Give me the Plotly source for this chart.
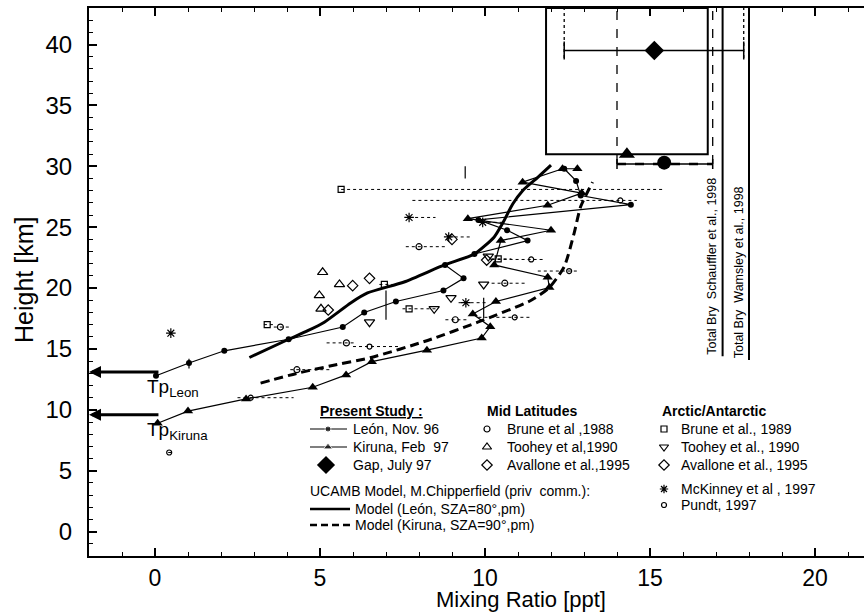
import plotly.graph_objects as go

# ------------------------------------------------------------------ data
# Present study (balloon profiles)
leon_x = [0.03, 1.03, 2.1, 4.05, 5.69, 6.34, 7.3, 8.74, 9.35, 8.79, 9.68, 11.29, 10.67, 9.8, 14.42, 12.9, 12.76, 12.4]
leon_y = [12.8, 13.85, 14.85, 15.8, 16.8, 18.0, 18.9, 19.8, 20.8, 21.9, 22.8, 23.9, 24.75, 25.6, 26.85, 27.6, 28.8, 29.8]
kiruna_x = [0.08, 1.0, 2.76, 4.78, 5.79, 6.57, 8.24, 9.9, 10.16, 9.63, 10.33, 11.95, 11.9, 10.28, 10.48, 12.0, 9.48, 11.9, 12.93, 11.14, 12.35, 12.8]
kiruna_y = [8.9, 9.9, 10.9, 11.86, 12.87, 13.96, 14.9, 15.9, 16.83, 17.87, 18.9, 20.05, 20.9, 21.9, 23.9, 24.75, 25.7, 26.8, 27.8, 28.7, 29.8, 29.8]

# UCAMB model profiles
model_leon_x = [2.86, 4.05, 4.63, 5.13, 5.94, 6.44, 7.55, 8.77, 9.68, 10.28, 10.53, 10.84, 11.14, 11.6, 12.0]
model_leon_y = [14.3, 15.8, 16.5, 17.2, 18.8, 19.6, 20.5, 21.9, 22.8, 24.2, 25.3, 26.9, 28.0, 29.1, 30.1]
model_kiruna_x = [3.2, 4.3, 5.3, 6.55, 8.26, 9.78, 11.4, 11.95, 12.4, 12.7, 12.9, 13.26]
model_kiruna_y = [12.2, 13.0, 13.6, 14.3, 15.7, 17.2, 19.0, 20.05, 21.75, 24.5, 26.7, 28.7]

# Gap, July 97 (total Bry) with its range
gap_x = [15.13]
gap_y = [39.5]
gap_xlo = [12.4]
gap_xhi = [17.84]

# top-of-profile values (León / Kiruna) with common range
top_leon_x = [15.43]
top_leon_y = [30.3]
top_kiruna_x = [14.3]
top_kiruna_y = [31.0]
top_range_lo = [14.0]
top_range_hi = [16.9]
top_range_y = [30.2]
box_x = [11.85, 16.75]
box_y_bottom = [31.0]

# total Bry literature values
bry_x = [17.2, 18.0]
bry_y_bottom = [14.4, 14.1]
bry_labels = ["Total Bry  Schauffler et al., 1998", "Total Bry  Wamsley et al., 1998"]

# tropopause heights
tp_names = ["Leon", "Kiruna"]
tp_heights = [13.1, 9.6]

# literature: mid latitudes
brune88_x = [3.8, 5.8, 8.0, 9.1, 10.6, 4.3]
brune88_y = [16.8, 15.5, 23.4, 17.4, 20.4, 13.3]
brune88_lo = [3.6, 5.2, 7.6, 8.8, 10.2, 4.1]
brune88_hi = [4.1, 6.1, 8.8, 9.5, 11.2, 5.3]
toohey90m_x = [5.08, 5.59, 4.98, 5.03]
toohey90m_y = [21.3, 20.3, 19.4, 18.3]
avallone95m_x = [5.99, 5.25, 6.5]
avallone95m_y = [20.2, 18.2, 20.8]

# literature: arctic / antarctic
brune89_x = [3.4, 6.95, 7.7, 5.64, 10.4]
brune89_y = [17.0, 20.3, 18.3, 28.1, 22.4]
brune89_lo = [3.3, 6.8, 7.5, 5.64, 10.2]
brune89_hi = [3.6, 7.2, 8.5, 15.4, 10.8]
toohey90a_x = [6.5, 8.46, 8.97, 9.96, 10.1]
toohey90a_y = [17.2, 18.3, 19.2, 20.3, 22.6]
avallone95a_x = [10.05, 9.0]
avallone95a_y = [22.3, 24.0]
mckinney97_x = [0.48, 7.7, 8.9, 9.42, 9.93]
mckinney97_y = [16.3, 25.8, 24.2, 18.8, 25.4]
mckinney97_lo = [0.48, 7.7, 8.9, 9.2, 9.9]
mckinney97_hi = [0.48, 8.5, 9.6, 10.1, 10.6]
pundt97_x = [11.4, 12.55, 14.1, 0.43, 6.5, 2.9, 10.9]
pundt97_y = [22.35, 21.4, 27.2, 6.5, 15.2, 11.0, 17.6]
pundt97_lo = [10.2, 11.6, 7.8, 0.4, 6.0, 2.5, 9.8]
pundt97_hi = [11.8, 12.8, 14.6, 0.5, 7.4, 4.2, 11.4]

# additional altitude error bars on the profiles
alt_err_x = [7.0, 9.96, 1.03, 9.4]
alt_err_lo = [17.4, 17.5, 13.4, 29.0]
alt_err_hi = [19.8, 19.2, 14.2, 30.0]

# axis ticks
x_ticks = [0, 5, 10, 15, 20]
y_ticks = [0, 5, 10, 15, 20, 25, 30, 35, 40]

# legend texts
legend_groups = {
    "present": ["León, Nov. 96", "Kiruna, Feb  97", "Gap, July 97"],
    "model": ["Model (León, SZA=80°,pm)", "Model (Kiruna, SZA=90°,pm)"],
    "mid": ["Brune et al ,1988", "Toohey et al,1990", "Avallone et al.,1995"],
    "arctic": ["Brune et al., 1989", "Toohey et al., 1990", "Avallone et al., 1995",
               "McKinney et al , 1997", "Pundt, 1997"],
}

# ------------------------------------------------------------------ figure
FONT = "Liberation Sans, Arial, sans-serif"
W, H = 864, 612
ML, MR, MT, MB = 89, 0, 8, 56
PX_PER_PPT = 33.0
x_range = [-2, -2 + (W - ML - MR) / PX_PER_PPT]
y_range = [-2, 43]
PW, PH = W - ML - MR, H - MT - MB

fig = go.Figure()


def seg_trace(xs0, xs1, ys0, ys1, width=1.0, dash="solid", color="black"):
    xx, yy = [], []
    for a, b, c, d in zip(xs0, xs1, ys0, ys1):
        xx += [a, b, None]
        yy += [c, d, None]
    return go.Scatter(x=xx, y=yy, mode="lines", line=dict(color=color, width=width, dash=dash),
                      hoverinfo="skip", showlegend=False)


# literature error bars (dotted)
for xs, lo, hi, ys in [(brune88_x, brune88_lo, brune88_hi, brune88_y),
                       (brune89_x, brune89_lo, brune89_hi, brune89_y),
                       (mckinney97_x, mckinney97_lo, mckinney97_hi, mckinney97_y),
                       (pundt97_x, pundt97_lo, pundt97_hi, pundt97_y)]:
    fig.add_trace(seg_trace(lo, hi, ys, ys, width=1, dash="dot"))
fig.add_trace(seg_trace(alt_err_x, alt_err_x, alt_err_lo, alt_err_hi, width=1.2))

# literature markers
lit = [
    (brune88_x, brune88_y, "circle-open", 6),
    (toohey90m_x, toohey90m_y, "triangle-up-open", 9),
    (avallone95m_x, avallone95m_y, "diamond-open", 8),
    (brune89_x, brune89_y, "square-open", 6),
    (toohey90a_x, toohey90a_y, "triangle-down-open", 9),
    (avallone95a_x, avallone95a_y, "diamond-open", 8),
    (mckinney97_x, mckinney97_y, "asterisk-open", 8),
    (pundt97_x, pundt97_y, "circle-open", 5),
]
for xs, ys, sym, sz in lit:
    fig.add_trace(go.Scatter(x=xs, y=ys, mode="markers",
                             marker=dict(symbol=sym, size=sz, color="black", line=dict(width=1.2, color="black")),
                             showlegend=False, hoverinfo="skip"))

# model profiles
fig.add_trace(go.Scatter(x=model_leon_x, y=model_leon_y, mode="lines",
                         line=dict(color="black", width=3, shape="spline", smoothing=0.6), showlegend=False))
fig.add_trace(go.Scatter(x=model_kiruna_x, y=model_kiruna_y, mode="lines",
                         line=dict(color="black", width=3, dash="9px,5px", shape="spline", smoothing=0.6),
                         showlegend=False))

# measured profiles
fig.add_trace(go.Scatter(x=leon_x, y=leon_y, mode="lines+markers", line=dict(color="black", width=1.2),
                         marker=dict(symbol="circle", size=6, color="black"), showlegend=False))
fig.add_trace(go.Scatter(x=kiruna_x, y=kiruna_y, mode="lines+markers", line=dict(color="black", width=1.2),
                         marker=dict(symbol="triangle-up", size=9, color="black"), showlegend=False))

# top-of-profile range and markers
fig.add_trace(go.Scatter(x=top_leon_x, y=top_range_y, mode="markers", marker=dict(size=0.1, color="black"),
                         error_x=dict(type="data", symmetric=False,
                                      array=[h - c for h, c in zip(top_range_hi, top_leon_x)],
                                      arrayminus=[c - l for l, c in zip(top_range_lo, top_leon_x)],
                                      color="black", thickness=1.5, width=5),
                         showlegend=False, hoverinfo="skip"))
fig.add_trace(seg_trace(top_range_lo, top_range_hi, top_range_y, top_range_y, width=2.5, dash="dash"))
fig.add_trace(go.Scatter(x=top_kiruna_x, y=top_kiruna_y, mode="markers",
                         marker=dict(symbol="triangle-up", size=14, color="black"), showlegend=False))
fig.add_trace(go.Scatter(x=top_leon_x, y=top_leon_y, mode="markers",
                         marker=dict(symbol="circle", size=14, color="black"), showlegend=False))

# dashed verticals of the range, up to the top
fig.add_trace(seg_trace([top_range_lo[0], top_range_hi[0]], [top_range_lo[0], top_range_hi[0]],
                        [top_range_y[0]] * 2, [y_range[1]] * 2, width=1.3, dash="dash"))

# Gap value
fig.add_trace(go.Scatter(x=gap_x, y=gap_y, mode="markers",
                         marker=dict(symbol="diamond", size=15, color="black"),
                         error_x=dict(type="data", symmetric=False,
                                      array=[h - c for h, c in zip(gap_xhi, gap_x)],
                                      arrayminus=[c - l for l, c in zip(gap_xlo, gap_x)],
                                      color="black", thickness=1.5, width=9),
                         showlegend=False))
fig.add_trace(seg_trace([gap_xlo[0], gap_xhi[0]], [gap_xlo[0], gap_xhi[0]],
                        [gap_y[0] - 0.6] * 2, [y_range[1]] * 2, width=1.3, dash="dot"))

# total Bry lines
fig.add_trace(seg_trace(bry_x, bry_x, bry_y_bottom, [y_range[1]] * 2, width=2))

# box
fig.add_shape(type="rect", x0=box_x[0], x1=box_x[1], y0=box_y_bottom[0], y1=y_range[1],
              line=dict(color="black", width=2))

# Bry labels
for bx, lab, yc in zip(bry_x, bry_labels, [21.8, 21.3]):
    fig.add_annotation(x=bx, y=yc, text=lab, textangle=-90, showarrow=False, xanchor="right",
                       yanchor="middle", xshift=-1, font=dict(family=FONT, size=12.5, color="black"))

# tropopause arrows and labels
for name, h in zip(tp_names, tp_heights):
    fig.add_annotation(x=x_range[0], y=h, ax=0.15, ay=h, axref="x", ayref="y", xref="x", yref="y",
                       text="", showarrow=True, arrowhead=2, arrowsize=0.8, arrowwidth=3, arrowcolor="black")
    fig.add_annotation(x=-0.3, y=h - 1.3, text="Tp<sub>" + name + "</sub>", showarrow=False,
                       xanchor="left", yanchor="middle", font=dict(family=FONT, size=19, color="black"))

# ------------------------------------------------------------------ legend (pixel overlay axes)
LEG = dict(trace=dict(xaxis="x2", yaxis="y2", showlegend=False, hoverinfo="skip", cliponaxis=False),
           font=dict(family=FONT, size=14, color="black"))
rows_left = [429, 447, 465]
rows_model = [509, 525]
rows_right = [429, 447, 465, 489, 505]
HEAD_Y = 411

fig.add_trace(go.Scatter(x=[310, 328, 347], y=[rows_left[0]] * 3, mode="lines+markers",
                         line=dict(color="black", width=1.2), marker=dict(size=[0, 6, 0], color="black"), **LEG["trace"]))
fig.add_trace(go.Scatter(x=[310, 328, 347], y=[rows_left[1]] * 3, mode="lines+markers",
                         line=dict(color="black", width=1.2),
                         marker=dict(symbol="triangle-up", size=[0, 8, 0], color="black"), **LEG["trace"]))
fig.add_trace(go.Scatter(x=[326], y=[rows_left[2]], mode="markers",
                         marker=dict(symbol="diamond", size=14, color="black"), **LEG["trace"]))
fig.add_trace(go.Scatter(x=[310, 350], y=[rows_model[0]] * 2, mode="lines",
                         line=dict(color="black", width=2.5), **LEG["trace"]))
fig.add_trace(go.Scatter(x=[310, 350], y=[rows_model[1]] * 2, mode="lines",
                         line=dict(color="black", width=2.5, dash="7px,4px"), **LEG["trace"]))
mid_syms = [("circle-open", 6), ("triangle-up-open", 8), ("diamond-open", 8)]
for (sym, sz), ry in zip(mid_syms, rows_left):
    fig.add_trace(go.Scatter(x=[487], y=[ry], mode="markers",
                             marker=dict(symbol=sym, size=sz, color="black", line=dict(width=1.2, color="black")),
                             **LEG["trace"]))
arc_syms = [("square-open", 6), ("triangle-down-open", 8), ("diamond-open", 8), ("asterisk-open", 7), ("circle-open", 5)]
for (sym, sz), ry in zip(arc_syms, rows_right):
    fig.add_trace(go.Scatter(x=[664], y=[ry], mode="markers",
                             marker=dict(symbol=sym, size=sz, color="black", line=dict(width=1.2, color="black")),
                             **LEG["trace"]))

leg_texts = [(318, HEAD_Y, "<b><u>Present Study :</u></b>"),
             (308, 491, "UCAMB Model, M.Chipperfield (priv  comm.):"),
             (485, HEAD_Y, "<b>Mid Latitudes</b>"),
             (660, HEAD_Y, "<b>Arctic/Antarctic</b>")]
leg_texts += [(351, ry, t) for ry, t in zip(rows_left, legend_groups["present"])]
leg_texts += [(353, ry, t) for ry, t in zip(rows_model, legend_groups["model"])]
leg_texts += [(505, ry, t) for ry, t in zip(rows_left, legend_groups["mid"])]
leg_texts += [(679, ry, t) for ry, t in zip(rows_right, legend_groups["arctic"])]
for tx, ty, t in leg_texts:
    fig.add_annotation(x=tx, y=ty, xref="x2", yref="y2", text=t, showarrow=False, xanchor="left",
                       yanchor="middle", font=LEG["font"])

# axis titles
fig.add_annotation(xref="paper", yref="paper", x=(24 - ML) / PW, y=(H - MB - 280) / PH,
                   xanchor="center", yanchor="middle",
                   text="Height [km]", textangle=-90, showarrow=False, font=dict(family=FONT, size=25, color="black"))
fig.add_annotation(xref="paper", yref="paper", x=(521 - ML) / PW, y=(H - MB - 614) / PH,
                   xanchor="center", yanchor="bottom",
                   text="Mixing Ratio [ppt]", showarrow=False, font=dict(family=FONT, size=22, color="black"))

axis_common = dict(showgrid=False, zeroline=False, linecolor="black", linewidth=2,
                   ticks="inside", ticklen=8, tickwidth=1.5, tickcolor="black",
                   minor=dict(ticks="inside", ticklen=4, tickwidth=1.2, tickcolor="black", dtick=1))
fig.update_layout(
    width=W, height=H, margin=dict(l=ML, r=MR, t=MT, b=MB),
    paper_bgcolor="white", plot_bgcolor="white", showlegend=False,
    xaxis=dict(range=x_range, tickvals=x_ticks, ticklabelstandoff=0, showline=True, mirror="ticks",
               tickfont=dict(family=FONT, size=23, color="black"), **axis_common),
    yaxis=dict(range=y_range, tickvals=y_ticks, ticklabelstandoff=10, showline=True, mirror=False,
               tickfont=dict(family=FONT, size=24, color="black"), **axis_common),
    yaxis3=dict(overlaying="y", side="right", anchor="x", range=y_range, tickvals=y_ticks, showticklabels=False,
                showline=False, showgrid=False, zeroline=False, ticks="inside", ticklen=8, tickwidth=1.5,
                tickcolor="black"),
    xaxis2=dict(overlaying="x", range=[ML, W - MR], visible=False, fixedrange=True),
    yaxis2=dict(overlaying="y", range=[H - MB, MT], visible=False, fixedrange=True),
)

fig.write_html("out.html", config={"displayModeBar": False},
               post_script="document.body.style.margin='0px';")
